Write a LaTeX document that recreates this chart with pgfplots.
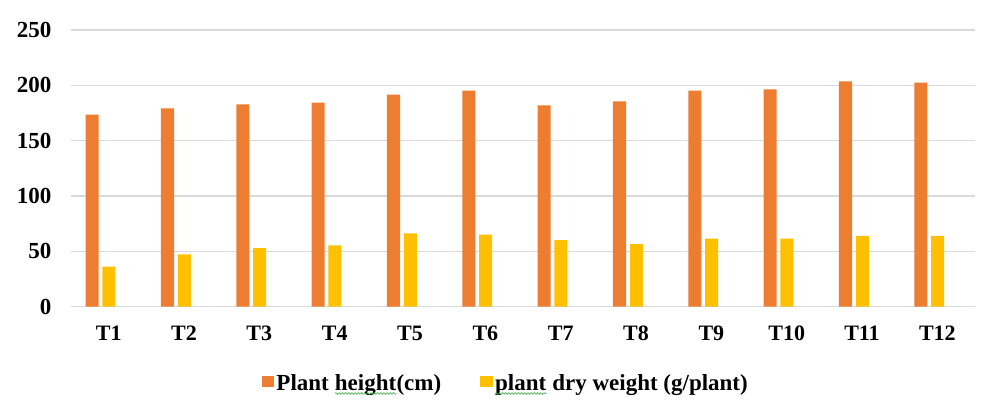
\documentclass[border=0pt]{standalone}
\usepackage{fontspec}
\setmainfont{Liberation Serif}
\usepackage{pgfplots}
\pgfplotsset{compat=1.18}
\usetikzlibrary{decorations.pathmorphing}
\definecolor{barorange}{HTML}{ED7D31}
\definecolor{bargold}{HTML}{FFC000}
\definecolor{gridgray}{HTML}{D9D9D9}
\definecolor{spellgreen}{HTML}{3FA64A}

% word with a wavy green underline
\newcommand{\squiggle}[1]{\tikz[baseline=(w.base)]{%
  \node[inner sep=0pt, outer sep=0pt, anchor=base] (w) {#1};
  \draw[spellgreen, line width=0.6pt, decorate,
    decoration={snake, amplitude=0.9pt, segment length=3.2pt}]
    ([yshift=-3.2pt]w.base west) -- ([yshift=-3.2pt]w.base east);}}

\begin{document}
\begin{tikzpicture}
\path[use as bounding box] (0,0) rectangle (987pt,412pt);
\begin{axis}[
  at={(71pt,105.3pt)}, anchor=south west,
  scale only axis, width=904pt, height=276.7pt,
  xmin=-0.5, xmax=11.5, ymin=0, ymax=250,
  ytick={0,50,...,250},
  xtick={0,...,11},
  xticklabels={T1,T2,T3,T4,T5,T6,T7,T8,T9,T10,T11,T12},
  axis line style={draw=none},
  major tick length=0pt,
  ymajorgrids, grid style={gridgray, line width=1.3pt},
  /pgf/number format/assume math mode=true,
  yticklabel style={font=\fontsize{23}{27}\selectfont\bfseries, xshift=-16pt},
  xticklabel style={font=\fontsize{22}{26}\selectfont\bfseries, yshift=-16pt},
  legend style={at={(0.481,-0.276)}, anchor=center, draw=none, fill=none,
    font=\fontsize{23}{27}\selectfont\bfseries, legend columns=2,
    /tikz/every even column/.append style={column sep=37pt},
    inner sep=0pt},
  legend image code/.code={\fill[#1] (0pt,-4.2pt) rectangle (12.6pt,7.1pt);},
  bar width=0.173,
]
\addplot[ybar, fill=barorange, draw=none, bar shift=-0.219] coordinates {
  (0,173.5) (1,179.2) (2,182.8) (3,184.3) (4,191.6) (5,195.2)
  (6,181.9) (7,185.5) (8,195.2) (9,196.4) (10,203.6) (11,202.4)};
\addlegendentry{Plant \squiggle{height}(cm)}
\addplot[ybar, fill=bargold, draw=none, bar shift=0.004] coordinates {
  (0,36.1) (1,47.3) (2,53.0) (3,55.4) (4,66.3) (5,65.1)
  (6,60.2) (7,56.6) (8,61.4) (9,61.4) (10,63.9) (11,63.9)};
\addlegendentry{\squiggle{plant} dry weight (g/plant)}
\end{axis}
\end{tikzpicture}
\end{document}
